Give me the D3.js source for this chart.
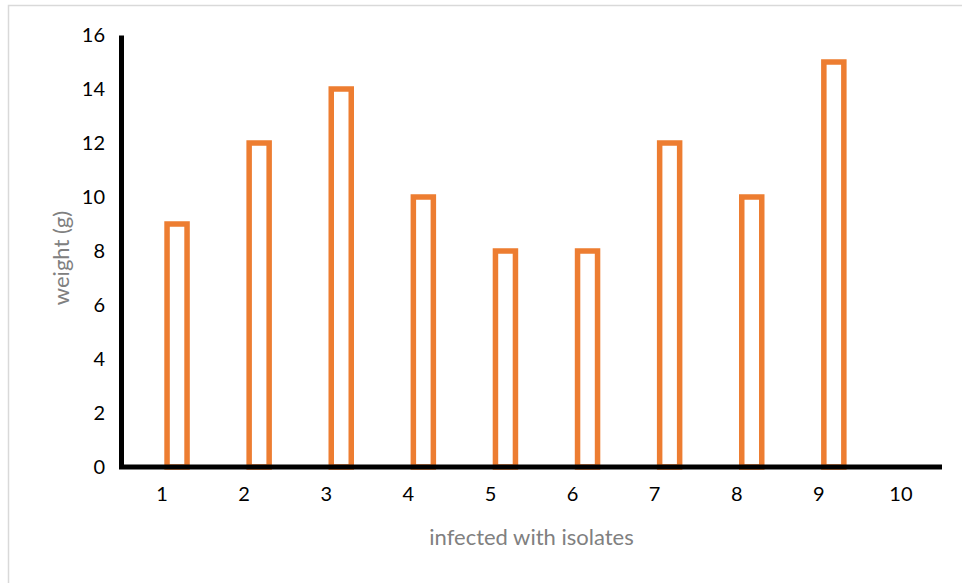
<!DOCTYPE html>
<html>
<head>
<meta charset="utf-8">
<script src="https://cdn.jsdelivr.net/npm/d3@7/dist/d3.min.js"></script>
<style>
  html, body { margin: 0; padding: 0; background: #fff; }
  svg { display: block; }
</style>
</head>
<body>
<svg id="chart" width="962" height="583"></svg>
<script>
const categories = ["1", "2", "3", "4", "5", "6", "7", "8", "9", "10"];
const values = [9, 12, 14, 10, 8, 8, 12, 10, 15, null];
const yTicks = [0, 2, 4, 6, 8, 10, 12, 14, 16];
const xTitle = "infected with isolates";
const yTitle = "weight (g)";

const svg = d3.select("#chart");
const font = "Lato, 'Open Sans', sans-serif";

// chart border
svg.append("rect")
  .attr("x", 8.5).attr("y", 5.5)
  .attr("width", 970).attr("height", 600)
  .attr("fill", "none").attr("stroke", "#d9d9d9").attr("stroke-width", 1.5);

const mLeft = 121, mRight = 942, mTop = 35, mBottom = 467;

const x = d3.scaleBand().domain(categories).range([mLeft, mRight]);
const y = d3.scaleLinear().domain([0, 16]).range([mBottom, mTop]);

// bars (right half of each band, as in a clustered chart)
const barW = 20;
svg.append("g").selectAll("rect")
  .data(categories.map((c, i) => ({c, v: values[i]})).filter(d => d.v != null))
  .join("rect")
  .attr("x", d => x(d.c) + x.bandwidth() / 2 + 5)
  .attr("y", d => y(d.v))
  .attr("width", barW)
  .attr("height", d => y(0) - y(d.v))
  .attr("fill", "#fff")
  .attr("stroke", "#ed7d31")
  .attr("stroke-width", 5.5);

// y axis
const yAxis = d3.axisLeft(y).tickValues(yTicks).tickSize(0).tickPadding(16);
const gy = svg.append("g").attr("transform", `translate(${mLeft},0)`).call(yAxis);
gy.select(".domain").attr("stroke", "#000").attr("stroke-width", 5);
gy.selectAll("text").attr("font-family", font).attr("font-size", 20).attr("fill", "#000");

// x axis
const xAxis = d3.axisBottom(x).tickSize(0).tickPadding(20);
const gx = svg.append("g").attr("transform", `translate(0,${mBottom})`).call(xAxis);
gx.select(".domain").attr("stroke", "#000").attr("stroke-width", 5)
  .attr("d", `M${mLeft - 2},0H${mRight}`);
gx.selectAll("text").attr("font-family", font).attr("font-size", 20).attr("fill", "#000");

// axis titles
svg.append("text")
  .attr("x", (mLeft + mRight) / 2).attr("y", 545)
  .attr("text-anchor", "middle")
  .attr("font-family", font).attr("font-size", 22).attr("fill", "#808080")
  .text(xTitle);

svg.append("text")
  .attr("transform", `translate(69,${(mTop + mBottom) / 2 + 7}) rotate(-90)`)
  .attr("text-anchor", "middle")
  .attr("font-family", font).attr("font-size", 22).attr("fill", "#808080")
  .text(yTitle);
</script>
</body>
</html>
